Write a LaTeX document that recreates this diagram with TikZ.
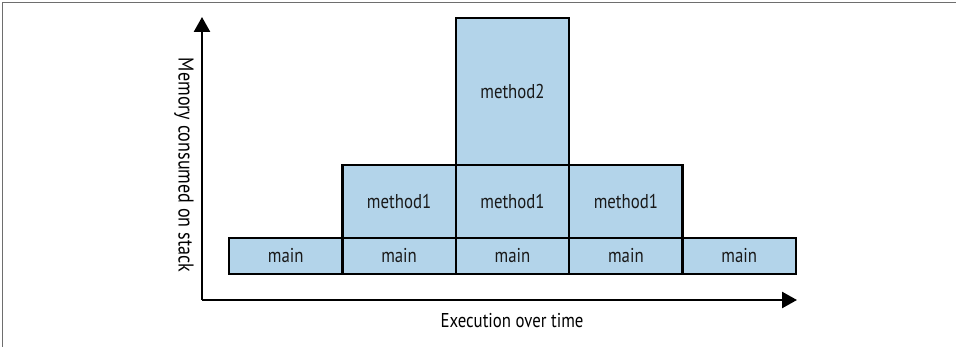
\documentclass[tikz,border=0pt]{standalone}
\usepackage{fontspec}
\setmainfont{PT Sans}[FakeStretch=0.84]
\usetikzlibrary{arrows.meta}
\definecolor{frameblue}{RGB}{179,212,234}
\definecolor{framegray}{RGB}{110,110,110}
\tikzset{
  cell/.style={draw=black, fill=frameblue, line width=2.4pt,
    minimum width=113.4pt, inner sep=0pt, text=black!90,
    font=\fontsize{20}{22}\selectfont},
  maincell/.style={cell, minimum height=36pt},
  m1cell/.style={cell, minimum height=73pt},
  m2cell/.style={cell, minimum height=147pt},
  axis/.style={line width=2.6pt, -{Triangle[length=15pt,width=16pt]}},
  axislabel/.style={inner sep=0pt}
}
\begin{document}
\begin{tikzpicture}[x=1pt,y=-1pt]
  \useasboundingbox (0,0) rectangle (956,347);
  % partial frame along the top and left edges
  \draw[framegray, line width=1.8pt] (2.5,347) -- (2.5,2.5) -- (956,2.5);

  % stack frames
  \node[m2cell] (m2)  at (512.5,91.5)  {method2};
  \node[m1cell] (m1a) at (399.1,201.5) {method1};
  \node[m1cell] (m1b) at (512.5,201.5) {method1};
  \node[m1cell] (m1c) at (625.9,201.5) {method1};
  \node[maincell] (ma) at (285.7,256) {main};
  \node[maincell] (mb) at (399.1,256) {main};
  \node[maincell] (mc) at (512.5,256) {main};
  \node[maincell] (md) at (625.9,256) {main};
  \node[maincell] (me) at (739.3,256) {main};

  % axes
  \coordinate (origin) at (202,300);
  \coordinate (ytip) at (202,17);
  \coordinate (xtip) at (797,300);
  \draw[axis] (origin) -- (ytip);
  \draw[axis] (origin) -- (xtip);

  \node[axislabel, rotate=-90, font=\fontsize{21.5}{23}\selectfont] (ylab) at (184,165) {Memory consumed on stack};
  \node[axislabel, font=\fontsize{20}{22}\selectfont] (xlab) at (512,321) {Execution over time};
\end{tikzpicture}
\end{document}
